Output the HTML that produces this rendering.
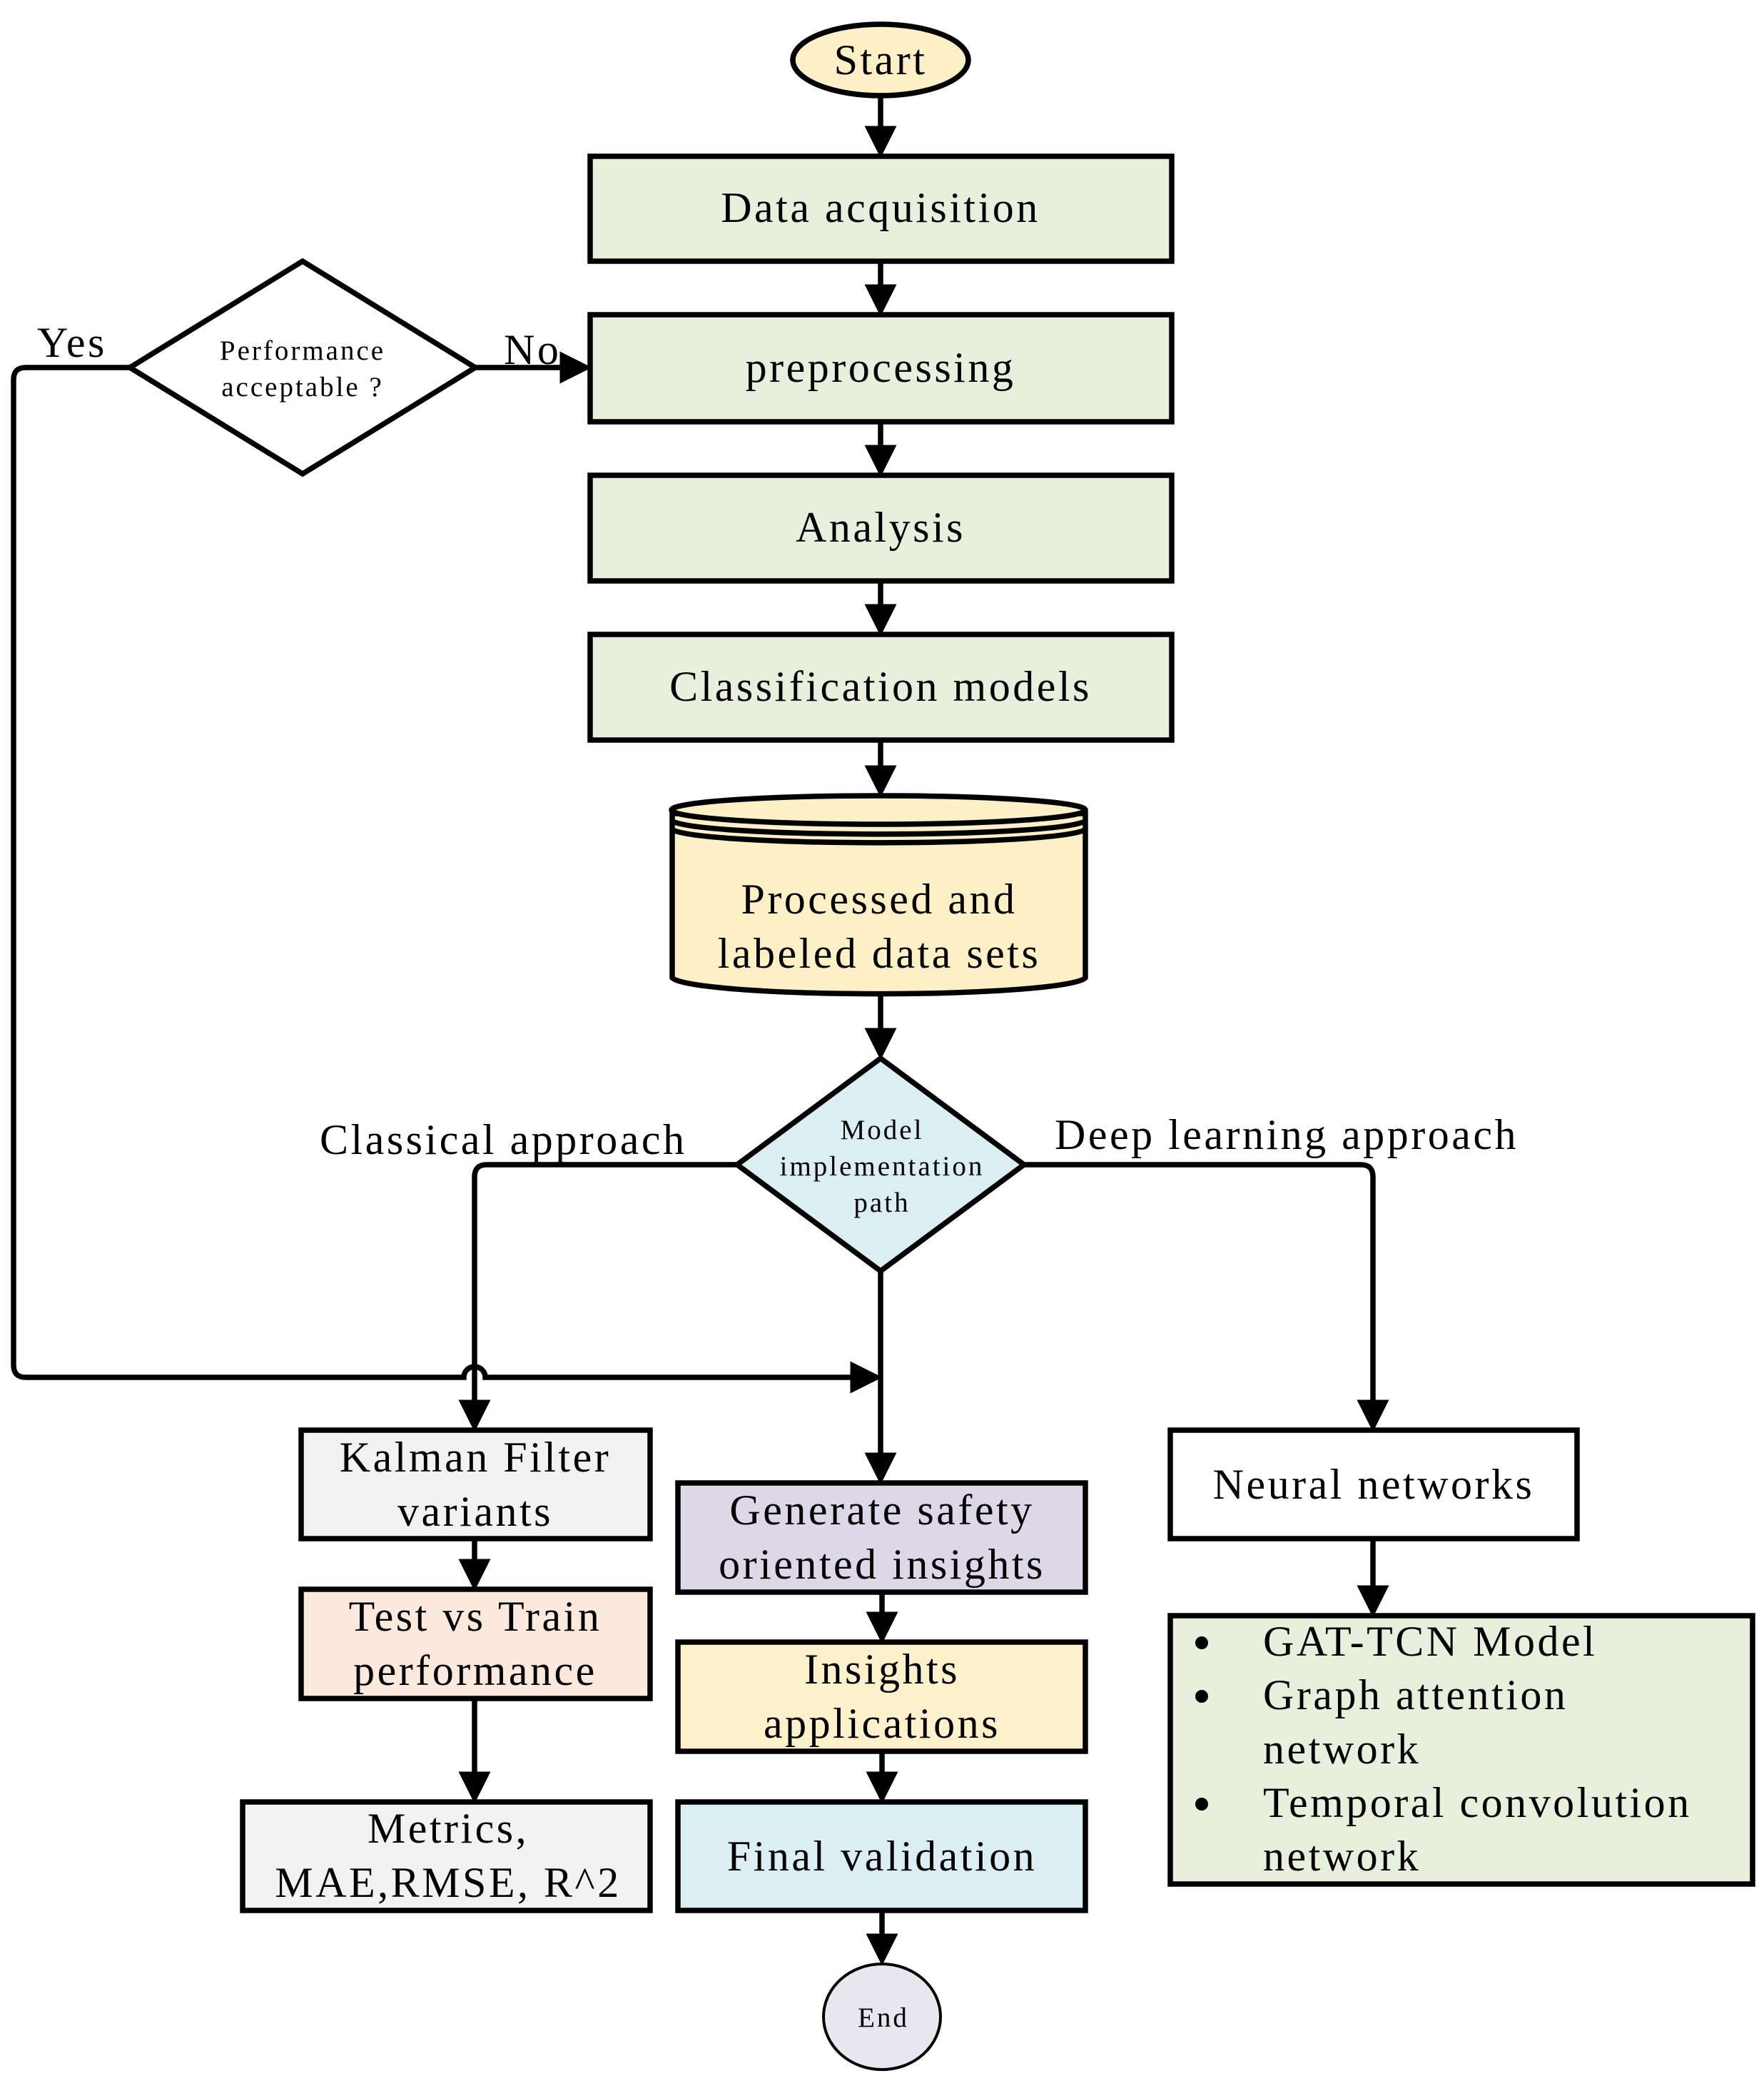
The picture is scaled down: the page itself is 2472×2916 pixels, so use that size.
<!DOCTYPE html>
<html><head><meta charset="utf-8"><style>html,body{margin:0;padding:0;background:#fff}svg{display:block}</style></head><body>
<svg width="2472" height="2916" viewBox="0 0 2472 2916" xmlns="http://www.w3.org/2000/svg" font-family="Liberation Serif, serif">
<defs><marker id="a" markerWidth="6" markerHeight="6" refX="5" refY="3" orient="auto" markerUnits="strokeWidth"><path d="M0,0L6,3L0,6z" fill="#000"/></marker></defs>
<g stroke="#000" stroke-width="7.5" fill="none">
<line x1="1234" y1="134" x2="1234" y2="214" marker-end="url(#a)"/>
<line x1="1234" y1="366" x2="1234" y2="436" marker-end="url(#a)"/>
<line x1="1234" y1="591" x2="1234" y2="661" marker-end="url(#a)"/>
<line x1="1234" y1="814" x2="1234" y2="884" marker-end="url(#a)"/>
<line x1="1234" y1="1037" x2="1234" y2="1110" marker-end="url(#a)"/>
<line x1="1234" y1="1394" x2="1234" y2="1478" marker-end="url(#a)"/>
<line x1="666" y1="515" x2="822" y2="515" marker-end="url(#a)"/>
<path d="M182,515 H36 Q19,515 19,532 V1913 Q19,1930 36,1930 H650 A15,15 0 0 1 680,1930 H1229" marker-end="url(#a)"/>
<path d="M1033,1632 H682 Q665,1632 665,1649 V1999" marker-end="url(#a)"/>
<path d="M1435,1632 H1907 Q1924,1632 1924,1649 V1999" marker-end="url(#a)"/>
<line x1="1234" y1="1781" x2="1234" y2="2073" marker-end="url(#a)"/>
<line x1="665" y1="2156" x2="665" y2="2222" marker-end="url(#a)"/>
<line x1="665" y1="2380" x2="665" y2="2520" marker-end="url(#a)"/>
<line x1="1236" y1="2231" x2="1236" y2="2296" marker-end="url(#a)"/>
<line x1="1236" y1="2454" x2="1236" y2="2520" marker-end="url(#a)"/>
<line x1="1236" y1="2677" x2="1236" y2="2747" marker-end="url(#a)"/>
<line x1="1924" y1="2156" x2="1924" y2="2259" marker-end="url(#a)"/>
</g>
<g stroke="#000" stroke-width="7.5">
<ellipse cx="1234" cy="84" rx="123" ry="50" fill="#fdefc6"/>
<rect x="827" y="219" width="815" height="147" fill="#e9efdd"/>
<rect x="827" y="441" width="815" height="150" fill="#e9efdd"/>
<rect x="827" y="666" width="815" height="148" fill="#e9efdd"/>
<rect x="827" y="889" width="815" height="148" fill="#e9efdd"/>
<path d="M942,1140 V1370 A290,24 0 0 0 1521,1370 V1140 Z" fill="#fdf0c6"/>
<ellipse cx="1231" cy="1135" rx="290" ry="20" fill="#fdf0c6"/>
<path d="M942,1150 A290,20 0 0 0 1521,1150 M942,1162 A290,20 0 0 0 1521,1162" fill="none"/>
<polygon points="424,366 666,515 424,664 182,515" fill="#fff"/>
<polygon points="1234,1483 1435,1632 1234,1781 1033,1632" fill="#dbeef3"/>
<rect x="422" y="2004" width="489" height="152" fill="#f2f2f2"/>
<rect x="422" y="2227" width="489" height="153" fill="#fbe9dd"/>
<rect x="340" y="2525" width="571" height="152" fill="#f2f2f2"/>
<rect x="950" y="2078" width="571" height="153" fill="#dcd8e8"/>
<rect x="950" y="2301" width="571" height="153" fill="#fdf1cc"/>
<rect x="950" y="2525" width="571" height="152" fill="#dbeef4"/>
<ellipse cx="1236" cy="2826" rx="82" ry="74" fill="#e8e6ef" stroke-width="4"/>
<rect x="1640" y="2004" width="570" height="152" fill="#fff"/>
<rect x="1640" y="2264" width="816" height="376" fill="#e9efdd"/>
</g>
<g font-size="60" text-anchor="middle" fill="#000" letter-spacing="3.5">
<text x="1234" y="104">Start</text>
<text x="1234" y="311">Data acquisition</text>
<text x="1234" y="535">preprocessing</text>
<text x="1234" y="759">Analysis</text>
<text x="1234" y="982">Classification models</text>
<text x="1232" y="1280">Processed and</text>
<text x="1232" y="1356">labeled data sets</text>
<text x="666" y="2062">Kalman Filter</text>
<text x="666" y="2138">variants</text>
<text x="666" y="2285">Test vs Train</text>
<text x="666" y="2361">performance</text>
<text x="628" y="2582">Metrics,</text>
<text x="628" y="2658">MAE,RMSE, R^2</text>
<text x="1236" y="2136">Generate safety</text>
<text x="1236" y="2212">oriented insights</text>
<text x="1236" y="2359">Insights</text>
<text x="1236" y="2435">applications</text>
<text x="1236" y="2621">Final validation</text>
<text x="1925" y="2100">Neural networks</text>
<text x="448" y="1617" text-anchor="start">Classical approach</text>
<text x="1478" y="1610" text-anchor="start">Deep learning approach</text>
<text x="52" y="500" text-anchor="start">Yes</text>
<text x="706" y="510" text-anchor="start">No</text>
</g>
<g font-size="39" text-anchor="middle" letter-spacing="3">
<text x="424" y="504">Performance</text>
<text x="424" y="555">acceptable ?</text>
<text x="1236" y="1596">Model</text>
<text x="1236" y="1647">implementation</text>
<text x="1236" y="1698">path</text>
<text x="1238" y="2840">End</text>
</g>
<g font-size="60" letter-spacing="3.5">
<circle cx="1684" cy="2302" r="9"/><circle cx="1684" cy="2377" r="9"/><circle cx="1684" cy="2528" r="9"/>
<text x="1770" y="2320">GAT-TCN Model</text>
<text x="1770" y="2395">Graph attention</text>
<text x="1770" y="2471">network</text>
<text x="1770" y="2546">Temporal convolution</text>
<text x="1770" y="2621">network</text>
</g>
</svg>
</body></html>
